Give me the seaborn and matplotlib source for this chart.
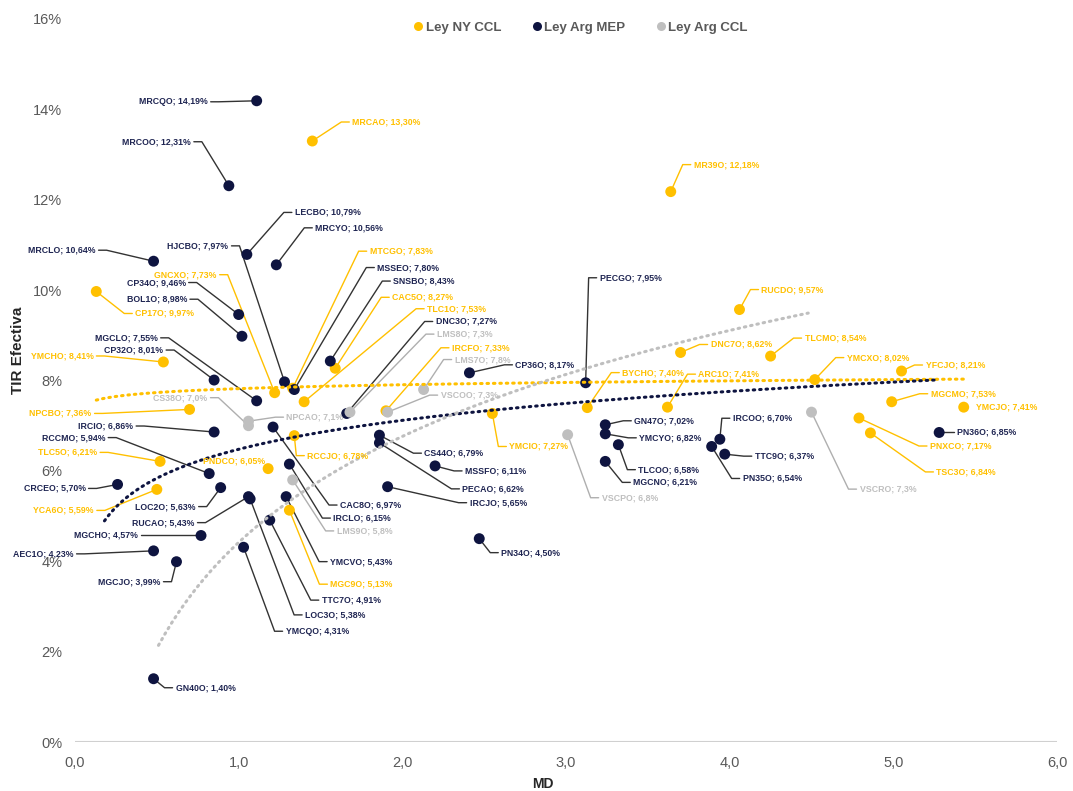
import numpy as np
import pandas as pd
import matplotlib
matplotlib.use("Agg")
import matplotlib.pyplot as plt
import seaborn as sns
from matplotlib.lines import Line2D

# ---------- datos ----------
# Ley NY CCL
ny_names = ["MRCAO", "MR39O", "CP17O", "YMCHO", "NPCBO", "TLC5O", "YCA6O", "GNCXO", "MTCGO",
            "CAC5O", "TLC1O", "RCCJO", "PNDCO", "MGC9O", "IRCFO", "YMCIO", "BYCHO", "ARC1O",
            "DNC7O", "RUCDO", "TLCMO", "YMCXO", "YFCJO", "MGCMO", "YMCJO", "PNXCO", "TSC3O"]
ny_md = [1.45, 3.64, 0.13, 0.54, 0.70, 0.52, 0.50, 1.22, 1.33,
         1.59, 1.40, 1.34, 1.18, 1.31, 1.90, 2.55, 3.13, 3.62,
         3.70, 4.06, 4.25, 4.52, 5.05, 4.99, 5.43, 4.79, 4.86]
ny_tir = [13.30, 12.18, 9.97, 8.41, 7.36, 6.21, 5.59, 7.73, 7.83,
          8.27, 7.53, 6.78, 6.05, 5.13, 7.33, 7.27, 7.40, 7.41,
          8.62, 9.57, 8.54, 8.02, 8.21, 7.53, 7.41, 7.17, 6.84]

# Ley Arg MEP
mep_names = ["MRCQO", "MRCOO", "LECBO", "MRCYO", "MRCLO", "HJCBO", "MSSEO", "CP34O", "BOL1O",
             "MGCLO", "CP32O", "SNSBO", "DNC3O", "IRCIO", "RCCMO", "CRCEO", "LOC2O", "RUCAO",
             "LOC3O", "MGCHO", "AEC1O", "MGCJO", "GN40O", "YMCQO", "TTC7O", "CAC8O", "IRCLO",
             "YMCVO", "CS44O", "PECAO", "MSSFO", "IRCJO", "PN34O", "CP36O", "PECGO", "GN47O",
             "YMCYO", "TLCOO", "MGCNO", "IRCOO", "PN35O", "TTC9O", "PN36O"]
mep_md = [1.11, 0.94, 1.05, 1.23, 0.48, 1.28, 1.34, 1.00, 1.02,
          1.11, 0.85, 1.56, 1.66, 0.85, 0.82, 0.26, 0.89, 1.06,
          1.07, 0.77, 0.48, 0.62, 0.48, 1.03, 1.19, 1.21, 1.31,
          1.29, 1.86, 1.86, 2.20, 1.91, 2.47, 2.41, 3.12, 3.24,
          3.24, 3.32, 3.24, 3.94, 3.89, 3.97, 5.28]
mep_tir = [14.19, 12.31, 10.79, 10.56, 10.64, 7.97, 7.80, 9.46, 8.98,
           7.55, 8.01, 8.43, 7.27, 6.86, 5.94, 5.70, 5.63, 5.43,
           5.38, 4.57, 4.23, 3.99, 1.40, 4.31, 4.91, 6.97, 6.15,
           5.43, 6.79, 6.62, 6.11, 5.65, 4.50, 8.17, 7.95, 7.02,
           6.82, 6.58, 6.21, 6.70, 6.54, 6.37, 6.85]

# Ley Arg CCL
ccl_names = ["CS38O", "NPCAO", "LMS9O", "LMS8O", "LMS7O", "VSCOO", "VSCPO", "VSCRO"]
ccl_md = [1.06, 1.06, 1.33, 1.68, 2.13, 1.91, 3.01, 4.50]
ccl_tir = [7.0, 7.1, 5.8, 7.3, 7.8, 7.3, 6.8, 7.3]

series = ["Ley NY CCL", "Ley Arg MEP", "Ley Arg CCL"]

# lineas de tendencia logaritmicas (a*ln(x)+b)
trend_a = [0.1245, 0.924, 3.384]
trend_b = [7.82, 6.478, 4.417]
trend_x0 = [0.13, 0.18, 0.51]
trend_x1 = [5.43, 5.25, 4.48]

# ---------- estilo ----------
colors = {"Ley NY CCL": "#FFC000", "Ley Arg MEP": "#0E1440", "Ley Arg CCL": "#BFBFBF"}
text_colors = {"Ley NY CCL": "#FFC000", "Ley Arg MEP": "#1F2552", "Ley Arg CCL": "#BFBFBF"}
leader_colors = {"Ley NY CCL": "#FFC000", "Ley Arg MEP": "#333333", "Ley Arg CCL": "#AFAFAF"}
decimals = {"Ley NY CCL": 2, "Ley Arg MEP": 2, "Ley Arg CCL": 1}

# posicion de etiquetas: desplazamiento en pixeles (dx, dy hacia abajo) y alineacion
label_offsets = {
    "MRCQO": (-49, 1, "right"), "MRCOO": (-38, -44, "right"), "LECBO": (48, -42, "left"),
    "MRCYO": (39, -37, "left"), "MRCLO": (-58, -11, "right"), "HJCBO": (-56, -136, "right"),
    "MSSEO": (83, -122, "left"), "CP34O": (-53, -32, "right"), "BOL1O": (-55, -37, "right"),
    "MGCLO": (-99, -63, "right"), "CP32O": (-51, -30, "right"), "SNSBO": (63, -80, "left"),
    "DNC3O": (89, -92, "left"), "IRCIO": (-81, -6, "right"), "RCCMO": (-104, -36, "right"),
    "CRCEO": (-32, 4, "right"), "LOC2O": (-25, 19, "right"), "RUCAO": (-54, 26, "right"),
    "LOC3O": (55, 116, "left"), "MGCHO": (-63, 0, "right"), "AEC1O": (-80, 3, "right"),
    "MGCJO": (-16, 20, "right"), "GN40O": (22, 9, "left"), "YMCQO": (42, 84, "left"),
    "TTC7O": (52, 80, "left"), "CAC8O": (67, 78, "left"), "IRCLO": (44, 54, "left"),
    "YMCVO": (44, 65, "left"), "CS44O": (45, 18, "left"), "PECAO": (83, 46, "left"),
    "MSSFO": (30, 5, "left"), "IRCJO": (82, 16, "left"), "PN34O": (22, 14, "left"),
    "CP36O": (46, -8, "left"), "PECGO": (14, -105, "left"), "GN47O": (29, -4, "left"),
    "YMCYO": (34, 4, "left"), "TLCOO": (20, 25, "left"), "MGCNO": (28, 21, "left"),
    "IRCOO": (13, -21, "left"), "PN35O": (31, 32, "left"), "TTC9O": (30, 2, "left"),
    "PN36O": (18, 0, "left"),
    "MRCAO": (40, -19, "left"), "MR39O": (23, -27, "left"), "CP17O": (39, 22, "left"),
    "YMCHO": (-70, -6, "right"), "NPCBO": (-98, 4, "right"), "TLC5O": (-63, -9, "right"),
    "YCA6O": (-63, 21, "right"), "GNCXO": (-58, -118, "right"), "MTCGO": (77, -137, "left"),
    "CAC5O": (57, -71, "left"), "TLC1O": (123, -93, "left"), "RCCJO": (13, 20, "left"),
    "PNDCO": (-3, -8, "right"), "MGC9O": (41, 74, "left"), "IRCFO": (66, -63, "left"),
    "YMCIO": (17, 33, "left"), "BYCHO": (35, -35, "left"), "ARC1O": (31, -33, "left"),
    "DNC7O": (30, -8, "left"), "RUCDO": (22, -20, "left"), "TLCMO": (34, -18, "left"),
    "YMCXO": (32, -22, "left"), "YFCJO": (24, -6, "left"), "MGCMO": (39, -8, "left"),
    "YMCJO": (12, 0, "left"), "PNXCO": (71, 28, "left"), "TSC3O": (66, 39, "left"),
    "CS38O": (-41, -28, "right"), "NPCAO": (38, -4, "left"), "LMS9O": (44, 51, "left"),
    "LMS8O": (87, -78, "left"), "LMS7O": (31, -30, "left"), "VSCOO": (53, -17, "left"),
    "VSCPO": (34, 63, "left"), "VSCRO": (48, 77, "left"),
}
no_leader = {"PNDCO", "YMCJO"}

sns.set_theme(style="white")
plt.rcParams["font.family"] = ["Liberation Sans", "DejaVu Sans"]

df = pd.concat([
    pd.DataFrame({"name": ny_names, "MD": ny_md, "TIR": ny_tir, "serie": series[0]}),
    pd.DataFrame({"name": mep_names, "MD": mep_md, "TIR": mep_tir, "serie": series[1]}),
    pd.DataFrame({"name": ccl_names, "MD": ccl_md, "TIR": ccl_tir, "serie": series[2]}),
], ignore_index=True)

W, H = 1073, 791
fig = plt.figure(figsize=(W / 100, H / 100), dpi=100)
ax = fig.add_axes([75 / W, 1 - 742 / H, 982 / W, 723 / H])
ax.set_xlim(0, 6)
ax.set_ylim(0, 16)
px_x = 6 / 982
px_y = 16 / 723

# puntos (amarillo debajo, luego MEP, luego CCL)
for i, s in enumerate(series):
    sub = df[df["serie"] == s]
    sns.scatterplot(data=sub, x="MD", y="TIR", color=colors[s], s=62, edgecolor="none",
                    ax=ax, zorder=3 + i, legend=False)

# lineas de tendencia
for i, s in enumerate(series):
    xs = np.linspace(trend_x0[i], trend_x1[i], 200)
    ax.plot(xs, trend_a[i] * np.log(xs) + trend_b[i], color=colors[s], lw=2.2,
            linestyle=(0, (0.5, 1.6)), dash_capstyle="round", zorder=7)

# etiquetas con lineas guia
gap, stub = 3, 8
for _, r in df.iterrows():
    dx, dy, ha = label_offsets[r["name"]]
    s = r["serie"]
    tx = r["MD"] + dx * px_x
    ty = r["TIR"] - dy * px_y
    txt = f"{r['name']}; {r['TIR']:.{decimals[s]}f}%".replace(".", ",")
    ax.text(tx, ty, txt, ha=ha, va="center", fontsize=6.3, fontweight="bold",
            color=text_colors[s], zorder=8)
    if r["name"] in no_leader:
        continue
    sign = 1 if ha == "left" else -1
    x_end = tx - sign * gap * px_x
    x_start = tx - sign * (gap + stub) * px_x
    ax.plot([r["MD"], x_start, x_end], [r["TIR"], ty, ty], color=leader_colors[s],
            lw=1.0, zorder=2)

# ejes
for sp in ax.spines.values():
    sp.set_visible(False)
ax.axhline(0, color="#D0D0D0", lw=1.5, zorder=1)
ax.set_xticks(np.arange(0, 7, 1))
ax.set_xticklabels([f"{v:.1f}".replace(".", ",") for v in np.arange(0, 7, 1)])
ax.set_yticks(np.arange(0, 17, 2))
ax.set_yticklabels([f"{v}%" for v in range(0, 17, 2)])
ax.tick_params(axis="both", length=0, labelsize=10.5, colors="#595959")
ax.tick_params(axis="x", pad=10)
ax.tick_params(axis="y", pad=9)
ax.set_xlabel("")
ax.set_ylabel("")

fig.text(18 / W, 1 - 350 / H, "TIR Efectiva", rotation=90, ha="center", va="center",
         fontsize=11, fontweight="bold", color="#262626")
fig.text(543 / W, 1 - 784 / H, "MD", ha="center", va="center",
         fontsize=10, fontweight="bold", color="#262626")

handles = [Line2D([], [], marker="o", linestyle="none", markersize=6.5,
                  markerfacecolor=colors[s], markeredgecolor="none") for s in series]
leg = fig.legend(handles, series, loc="center", bbox_to_anchor=(581 / W, 1 - 28 / H),
                 ncol=3, frameon=False, handlelength=0.6, handletextpad=0.25,
                 columnspacing=2.4, prop={"size": 9.5, "weight": "bold"})
for t in leg.get_texts():
    t.set_color("#595959")

fig.savefig("out.png", dpi=100)
